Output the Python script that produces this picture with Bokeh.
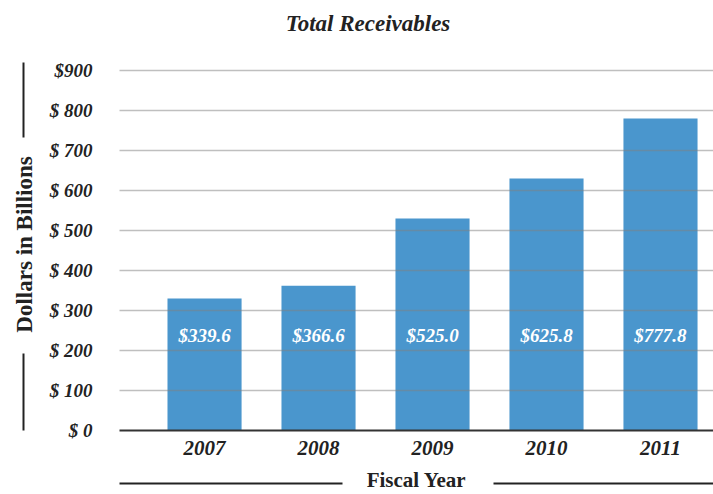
from bokeh.plotting import figure
from bokeh.models import ColumnDataSource, FixedTicker, Range1d, LinearAxis
from bokeh.core.properties import value
from bokeh.embed import file_html
from bokeh.resources import INLINE

years = ["2007", "2008", "2009", "2010", "2011"]
bar_heights = [330, 362, 530, 630, 780]
bar_labels = ["$339.6", "$366.6", "$525.0", "$625.8", "$777.8"]
y_ticks = [0, 100, 200, 300, 400, 500, 600, 700, 800, 900]
y_tick_labels = ["$ 0", "$ 100", "$ 200", "$ 300", "$ 400", "$ 500", "$ 600", "$ 700", "$ 800", "$900"]
x_title = "Fiscal Year"
y_title = "Dollars in Billions"
chart_title = "Total Receivables"

FONT = "Liberation Serif"
BLUE = "#4A96CD"
INK = "#222222"
LABEL_Y = 238
X_START, X_END = 0.254, 5.465
Y_END = 920

xs = [i + 1 for i in range(len(years))]
src = ColumnDataSource(dict(x=xs, top=bar_heights, label=bar_labels,
                            ly=[LABEL_Y] * len(years)))

p = figure(width=713, height=494, output_backend="svg", toolbar_location=None,
           x_range=Range1d(X_START, X_END), y_range=Range1d(0, Y_END),
           min_border_left=119, min_border_right=0, min_border_top=62,
           min_border_bottom=64)
p.outline_line_color = None

p.vbar(x="x", top="top", width=0.65, bottom=0, source=src, color=BLUE, line_color=None)
p.text(x="x", y="ly", text="label", source=src, text_align="center",
       text_baseline="middle", text_color="white", text_font=value(FONT),
       text_font_style="bold italic", text_font_size="19px")

# grid drawn over the bars
p.xgrid.grid_line_color = None
p.ygrid.ticker = FixedTicker(ticks=y_ticks[1:])
p.ygrid.grid_line_color = "#808080"
p.ygrid.grid_line_alpha = 0.5
p.ygrid.grid_line_width = 1.5
p.ygrid.level = "annotation"

# primary y axis
p.yaxis.ticker = FixedTicker(ticks=y_ticks)
p.yaxis.major_label_overrides = {t: l for t, l in zip(y_ticks, y_tick_labels)}
p.yaxis.axis_line_color = None
p.yaxis.major_tick_line_color = None
p.yaxis.minor_tick_line_color = None
p.yaxis.major_tick_out = 0
p.yaxis.minor_tick_out = 0
p.yaxis.major_label_text_font = FONT
p.yaxis.major_label_text_font_style = "bold italic"
p.yaxis.major_label_text_font_size = "19px"
p.yaxis.major_label_text_color = INK
p.yaxis.major_label_standoff = 27
p.yaxis.axis_label = " "
p.yaxis.axis_label_text_font_size = "18px"
p.yaxis.axis_label_standoff = 0

# primary x axis
p.xaxis.ticker = FixedTicker(ticks=xs)
p.xaxis.major_label_overrides = {x: y for x, y in zip(xs, years)}
p.xaxis.axis_line_color = "#333333"
p.xaxis.axis_line_width = 2
p.xaxis.major_tick_line_color = None
p.xaxis.minor_tick_line_color = None
p.xaxis.major_tick_out = 0
p.xaxis.minor_tick_out = 0
p.xaxis.major_label_text_font = FONT
p.xaxis.major_label_text_font_style = "bold italic"
p.xaxis.major_label_text_font_size = "21px"
p.xaxis.major_label_text_color = INK
p.xaxis.major_label_standoff = 10
p.xaxis.axis_label = " "
p.xaxis.axis_label_text_font_size = "20px"
p.xaxis.axis_label_standoff = 1


def segment_axis(bounds):
    return LinearAxis(ticker=FixedTicker(ticks=[]), bounds=bounds,
                      axis_line_color=INK, axis_line_width=2,
                      major_tick_out=0, minor_tick_out=0, major_tick_in=0, minor_tick_in=0,
                      major_tick_line_color=None, minor_tick_line_color=None,
                      major_label_standoff=0)


def label_axis(pos, text, size, standoff, orientation="horizontal", style="bold"):
    return LinearAxis(ticker=FixedTicker(ticks=[pos]), major_label_overrides={pos: text},
                      axis_line_color=None, major_tick_out=0, minor_tick_out=0,
                      major_tick_in=0, minor_tick_in=0,
                      major_tick_line_color=None, minor_tick_line_color=None,
                      major_label_standoff=standoff, major_label_orientation=orientation,
                      major_label_text_font=FONT, major_label_text_font_style=style,
                      major_label_text_font_size=size, major_label_text_color=INK)


# chart title
p.add_layout(label_axis(2.434, chart_title, "23px", 27, style="bold italic"), "above")

# "Fiscal Year" flanked by rules
p.add_layout(segment_axis((X_START, 2.21)), "below")
p.add_layout(segment_axis((3.535, X_END)), "below")
p.add_layout(label_axis(2.86, x_title, "21px", -16), "below")

# "Dollars in Billions" flanked by rules
p.add_layout(segment_axis((732, Y_END)), "left")
p.add_layout(segment_axis((0, 192)), "left")
p.add_layout(label_axis(465, y_title, "23px", -13, "vertical"), "left")

open("out.html", "w").write(file_html(p, INLINE))
